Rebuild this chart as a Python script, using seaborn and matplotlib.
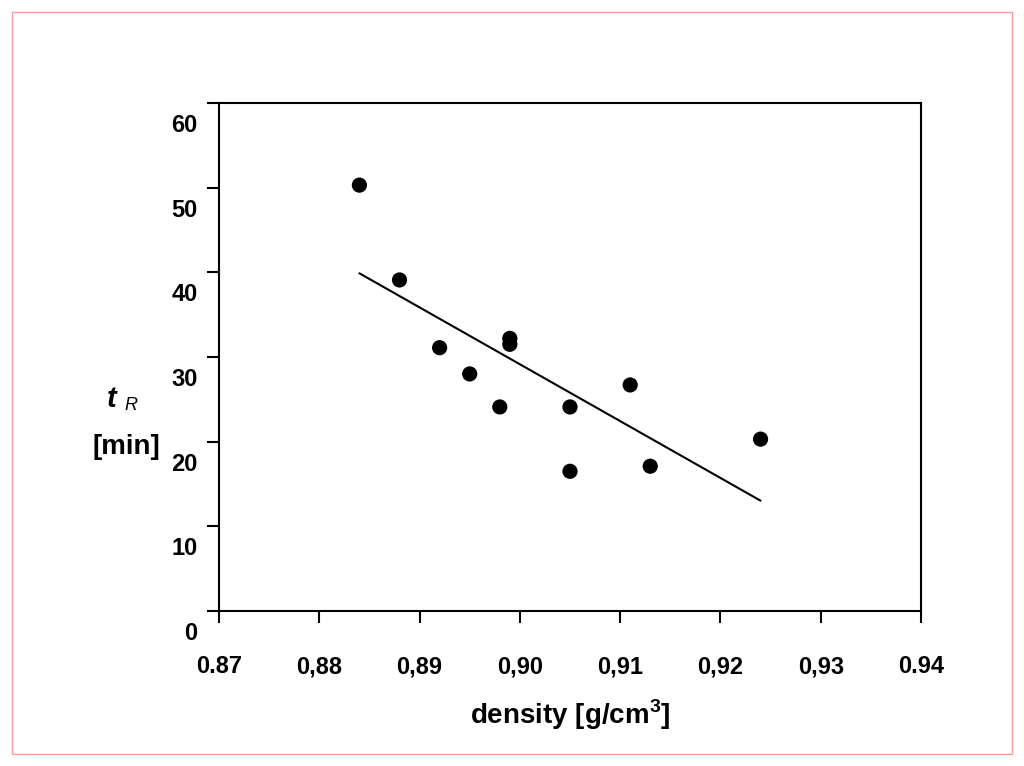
import matplotlib
matplotlib.use("Agg")
import matplotlib.pyplot as plt
import matplotlib.transforms as mtransforms
import seaborn as sns
import pandas as pd
import numpy as np

# values
density = [0.884, 0.888, 0.892, 0.895, 0.898, 0.899, 0.899, 0.905, 0.905, 0.911, 0.913, 0.924]
t_r = [50.3, 39.1, 31.1, 28.0, 24.1, 32.2, 31.5, 24.1, 16.5, 26.7, 17.1, 20.3]

x_ticks = [0.87, 0.88, 0.89, 0.90, 0.91, 0.92, 0.93, 0.94]
x_ticklabels = ["0.87", "0,88", "0,89", "0,90", "0,91", "0,92", "0,93", "0.94"]
y_ticks = [0, 10, 20, 30, 40, 50, 60]
y_ticklabels = ["0", "10", "20", "30", "40", "50", "60"]

sns.set_style("ticks", {"axes.edgecolor": "black", "xtick.color": "black", "ytick.color": "black",
                        "text.color": "black", "axes.labelcolor": "black"})
plt.rcParams["font.family"] = ["Liberation Sans", "DejaVu Sans"]
plt.rcParams["text.color"] = "black"
plt.rcParams["mathtext.fontset"] = "custom"
plt.rcParams["mathtext.bf"] = "Liberation Sans:bold"
plt.rcParams["mathtext.rm"] = "Liberation Sans"

ds = pd.DataFrame({"density": density, "tR": t_r})

fig = plt.figure(figsize=(10.24, 7.66), dpi=100)
ax = fig.add_axes([219 / 1024, 1 - 611 / 766, 702 / 1024, 508 / 766])

sns.regplot(x="density", y="tR", data=ds, ax=ax, ci=None, color="black",
            scatter_kws={"s": 120, "edgecolor": "none", "alpha": 1, "zorder": 3},
            line_kws={"linewidth": 1.5})

ax.set_xlim(0.87, 0.94)
ax.set_ylim(0, 60)
ax.set_xticks(x_ticks)
ax.set_xticklabels(x_ticklabels, fontsize=17, fontweight="bold", color="black")
ax.set_yticks(y_ticks)
ax.set_yticklabels(y_ticklabels, fontsize=17, fontweight="bold", color="black")
ax.set_xlabel("")
ax.set_ylabel("")

for s in ax.spines.values():
    s.set_linewidth(1.5)
    s.set_color("black")
ax.tick_params(axis="both", direction="out", length=8.5, width=1.5)
ax.tick_params(axis="x", pad=23.5)
ax.tick_params(axis="y", pad=7)

# y tick labels sit a bit below their ticks in the original
shift = mtransforms.ScaledTranslation(0, -0.2, fig.dpi_scale_trans)
for lab in ax.get_yticklabels():
    lab.set_transform(lab.get_transform() + shift)

fig.text(570 / 1024, 1 - 715 / 766, "density [g/cm$^{\\mathbf{3}}$]", ha="center", va="center",
         fontsize=20, fontweight="bold", color="black")
fig.text(112 / 1024, 1 - 399 / 766, "t", ha="center", va="center",
         fontsize=21, fontweight="bold", style="italic", color="black")
fig.text(131 / 1024, 1 - 406 / 766, "R", ha="center", va="center",
         fontsize=13, style="italic", color="black")
fig.text(126 / 1024, 1 - 447 / 766, "[min]", ha="center", va="center",
         fontsize=20, fontweight="bold", color="black")

# thin pink frame round the figure
frame = plt.Rectangle((11.5 / 1024, 1 - 754 / 766), 1000.5 / 1024, 742.5 / 766,
                      transform=fig.transFigure, fill=False, edgecolor="#ff9a9a", linewidth=1)
fig.add_artist(frame)

fig.savefig("out.png", dpi=100)
